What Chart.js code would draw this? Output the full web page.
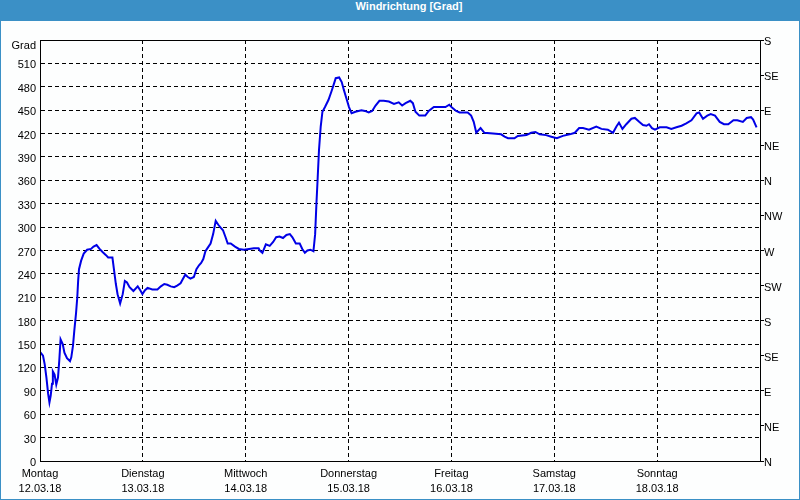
<!DOCTYPE html>
<html><head><meta charset="utf-8">
<script src="https://cdn.jsdelivr.net/npm/chart.js@4/dist/chart.umd.min.js"></script>
<style>
html,body{margin:0;padding:0;background:#3b90c6;}
#frame{position:relative;width:800px;height:500px;background:#3b90c6;overflow:hidden;}
#title{position:absolute;left:0;top:0;width:800px;height:21px;line-height:21px;text-align:center;color:#fff;font:bold 11px "Liberation Sans",Arial,sans-serif;padding-left:18px;box-sizing:border-box;}
#plot{position:absolute;left:1px;top:21px;width:798px;height:478px;background:#fdfefe;}
canvas{display:block;}
</style></head><body>
<div id="frame"><div id="title">Windrichtung [Grad]</div><div id="plot"><canvas id="c" width="798" height="478"></canvas></div></div>
<script>
// ---- data ----
const dayNames = ['Montag','Dienstag','Mittwoch','Donnerstag','Freitag','Samstag','Sonntag'];
const dayDates = ['12.03.18','13.03.18','14.03.18','15.03.18','16.03.18','17.03.18','18.03.18'];
const compassLabels = ['N','NE','E','SE','S','SW','W','NW','N','NE','E','SE','S'];
const unitLabel = 'Grad';
// hours since Monday 00:00
const hours = [0,0.7,1.1,1.5,1.9,2.2,2.5,2.8,3.0,3.4,3.8,4.2,4.5,4.8,5.3,5.7,6.3,7.0,7.3,7.7,8.0,8.4,8.7,8.9,9.1,9.6,10.2,11.0,11.9,12.5,13.2,13.9,14.6,15.4,15.9,16.9,17.3,17.7,18.1,18.7,19.3,19.8,20.3,20.9,21.8,22.8,23.4,23.9,24.5,25.1,26.2,27.4,28.2,29.0,29.7,30.5,31.3,32.0,32.8,33.4,33.9,34.5,35.1,35.9,36.5,37.1,37.6,38.1,38.6,39.2,39.8,40.4,41.0,41.6,42.2,42.7,43.3,43.8,44.5,45.5,46.4,47.6,48.8,49.9,51.0,51.3,51.9,52.7,53.6,54.4,55.1,55.9,56.7,57.5,58.3,58.9,59.7,60.6,61.2,61.8,62.4,63.1,63.8,64.2,64.5,64.8,65.1,65.5,65.9,66.5,67.3,68.0,68.6,69.0,69.8,70.4,70.9,71.5,72.1,72.7,73.6,75.0,75.8,76.7,77.5,78.3,79.2,80.2,81.4,82.6,83.7,84.5,85.3,86.4,87.0,87.6,88.5,89.9,90.7,91.9,93.0,94.6,95.5,96.2,97.1,97.9,99.8,100.6,101.2,101.8,102.8,103.7,105.7,107.6,108.4,109.2,110.7,111.5,113.5,114.6,115.6,116.6,118.1,119.3,120.6,122.0,123.6,124.8,125.8,126.7,128.1,129.8,131.0,132.5,133.7,134.5,135.1,135.9,136.8,138.0,138.8,139.8,140.7,141.5,142.1,142.8,143.5,144.6,146.2,147.3,148.5,149.7,150.8,152.0,153.2,153.8,154.7,155.7,156.5,157.5,158.6,159.6,160.6,161.8,162.7,164.0,164.9,165.9,166.4,167.2];
const direction = [140,135,124,107,86,75,84,99,115,111,98,107,129,156,150,139,132,128,133,148,167,189,210,231,246,257,266,271,272,275,277,272,268,264,261,261,244,227,214,202,214,231,229,223,218,224,219,214,219,222,220,220,224,227,226,224,223,225,228,234,239,236,234,236,246,251,254,259,269,274,279,291,308,303,299,296,287,279,279,275,272,271,272,273,273,270,267,278,276,281,287,288,286,290,291,287,279,279,272,267,270,271,269,291,330,364,399,429,448,454,463,474,484,491,492,486,476,465,454,446,448,450,449,447,449,456,462,462,461,458,460,456,459,462,459,448,443,443,449,454,454,454,457,453,449,447,447,443,435,421,427,421,420,419,416,414,414,417,418,421,422,419,418,416,414,417,419,421,427,427,425,429,426,425,421,429,434,426,432,439,440,435,431,430,432,427,425,428,428,426,428,430,433,437,446,447,439,443,445,443,435,432,432,437,437,435,440,441,438,428];

const points = hours.map((h,i)=>({x:h, y:direction[i]}));
const FONT = {family:'"Liberation Sans", Arial, sans-serif', size:11};

function zeroPad(s){ s.paddingTop=0; s.paddingBottom=0; s.paddingLeft=0; s.paddingRight=0; }

const framePlugin = {
  id:'frameBox',
  afterDraw(chart){
    const {ctx, chartArea:a} = chart;
    ctx.save();
    ctx.setLineDash([]);
    ctx.strokeStyle='#000'; ctx.lineWidth=1;
    ctx.strokeRect(Math.round(a.left)+0.5, Math.round(a.top)+0.5, Math.round(a.right-a.left), Math.round(a.bottom-a.top));
    ctx.fillStyle='#000';
    ctx.font='11px "Liberation Sans", Arial, sans-serif';
    ctx.textAlign='right'; ctx.textBaseline='middle';
    ctx.fillText(unitLabel, a.left-4, a.top+6);
    ctx.restore();
  }
};

new Chart(document.getElementById('c'), {
  type:'line',
  data:{datasets:[{data:points, borderColor:'rgb(0,0,230)', borderWidth:2, pointRadius:0, tension:0, fill:false}]},
  options:{
    responsive:false, animation:false, devicePixelRatio:1,
    layout:{padding:{top:19,left:0,right:0,bottom:0}},
    plugins:{legend:{display:false}, tooltip:{enabled:false}, title:{display:false}},
    scales:{
      x:{type:'linear', min:0, max:168,
        afterFit(s){ s.height=38; zeroPad(s); },
        ticks:{stepSize:24, autoSkip:false, maxRotation:0, color:'#000', font:{...FONT, lineHeight:15/11}, padding:5,
          callback:(v)=>{ const i=Math.round(v/24); return (i<7)?[dayNames[i], dayDates[i]]:''; }},
        grid:{color:'#000', lineWidth:1, drawTicks:false, borderDash:[4,3]},
        border:{display:true, color:'#000', width:1, dash:[4,3]}
      },
      y:{type:'linear', position:'left', min:0, max:540,
        afterFit(s){ s.width=39; zeroPad(s); },
        ticks:{stepSize:30, autoSkip:false, color:'#000', font:FONT, padding:4, labelOffset:2,
          callback:(v)=> v>=540 ? '' : String(v)},
        grid:{color:'#000', lineWidth:1, drawTicks:false, borderDash:[4,3]},
        border:{display:true, color:'#000', width:1, dash:[4,3]}
      },
      y2:{type:'linear', position:'right', min:0, max:540,
        afterFit(s){ s.width=39; zeroPad(s); },
        ticks:{stepSize:45, autoSkip:false, color:'#000', font:FONT, padding:0, labelOffset:2,
          callback:(v)=> compassLabels[Math.round(v/45)]},
        grid:{display:true, drawOnChartArea:false, drawTicks:true, tickLength:4, color:'#000'},
        border:{display:true, color:'#000', width:1}
      }
    }
  },
  plugins:[framePlugin]
});
</script>
</body></html>
